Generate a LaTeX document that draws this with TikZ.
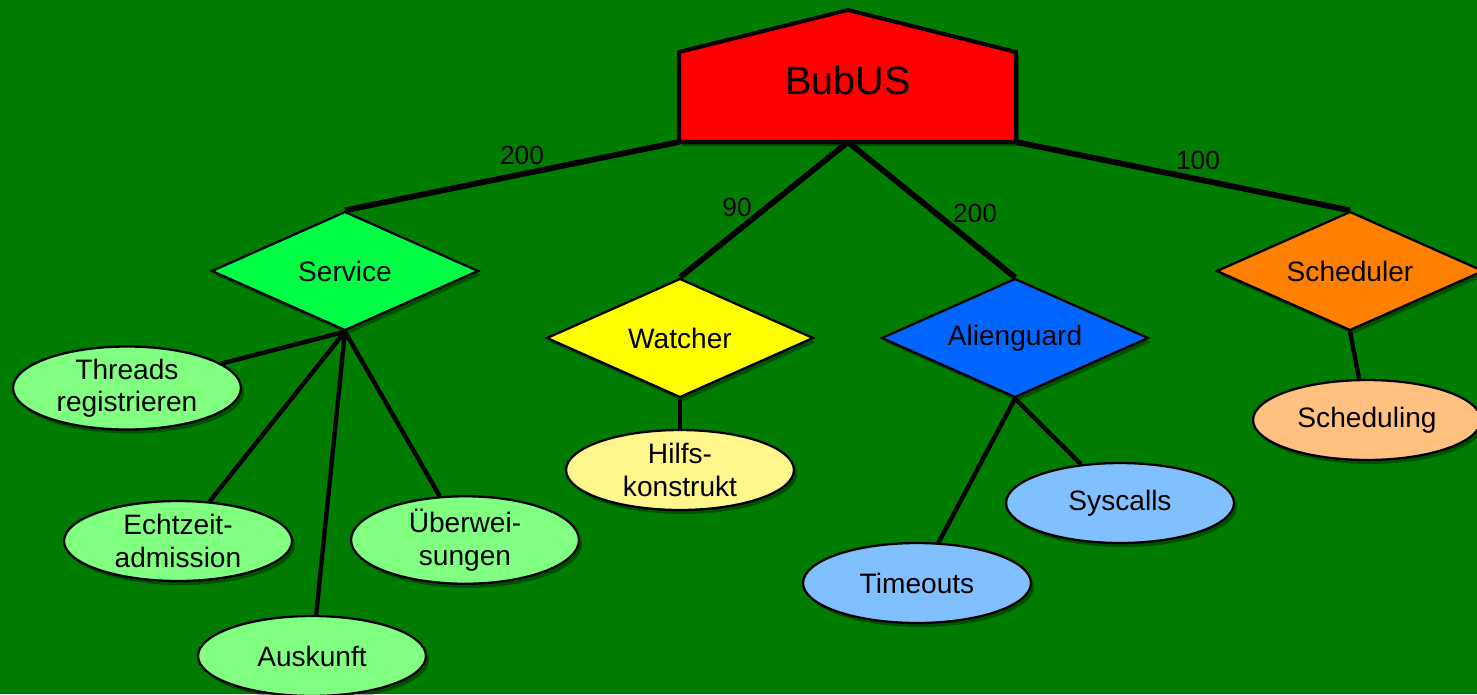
\documentclass[tikz,border=0pt]{standalone}
\usepackage{fontspec}
\setmainfont{Liberation Sans}
\usetikzlibrary{shapes.geometric,shadows}
\definecolor{bggreen}{RGB}{0,125,0}
\definecolor{hausrot}{RGB}{255,0,0}
\definecolor{svcgruen}{RGB}{0,255,68}
\definecolor{hellgruen}{RGB}{128,255,128}
\definecolor{wgelb}{RGB}{255,255,0}
\definecolor{hellgelb}{RGB}{255,246,140}
\definecolor{ablau}{RGB}{0,102,255}
\definecolor{hellblau}{RGB}{128,192,255}
\definecolor{sorange}{RGB}{255,128,0}
\definecolor{hellorange}{RGB}{255,192,128}
\tikzset{
  box/.style={draw=black,line width=1.3pt,
    drop shadow={shadow xshift=0.06cm,shadow yshift=-0.08cm,opacity=0.35,fill=black}},
  raute/.style={box,diamond,aspect=2.24,minimum width=5.34cm,minimum height=2.38cm,inner sep=0pt,
    font=\fontsize{16}{18.5}\selectfont},
  blase/.style={box,ellipse,minimum width=4.56cm,minimum height=1.6cm,inner sep=0pt,
    align=center,font=\fontsize{16}{18.5}\selectfont},
  dick/.style={line width=3.3pt},
  duenn/.style={line width=2.5pt},
  zahl/.style={font=\fontsize{15}{18}\selectfont}
}

\begin{document}
\begin{tikzpicture}[x=0.02cm,y=-0.02cm]
    % 背景
    \fill[bggreen](0,0)rectangle(1477,694);
    \useasboundingbox(0,0)rectangle(1477,694);
    % 顶部房子
    \coordinate(hl)at(679,142);
    \coordinate(hm)at(848,142);
    \coordinate(hr)at(1016,142);
    \filldraw[fill=hausrot,line width=2.3pt,line join=miter,
      drop shadow={shadow xshift=0.06cm,shadow yshift=-0.08cm,opacity=0.35,fill=black}]
      (hl)--(679,52)--(848,10)--(1016,52)--(hr)--cycle;
    \node(bubus)at(848,80){\fontsize{22.5}{26}\selectfont BubUS};
    % 菱形
    \node[raute,fill=svcgruen](svc)at(345,271){Service};
    \node[raute,fill=wgelb](wat)at(680,338){Watcher};
    \node[raute,fill=ablau](ali)at(1015,338){Alienguard};
    \node[raute,fill=sorange](sch)at(1350,271){Scheduler};
    % 椭圆
    \node[blase,fill=hellgruen](thr)at(127,388){Threads\\registrieren};
    \node[blase,fill=hellgruen](ech)at(178,541){Echtzeit-\\admission};
    \node[blase,fill=hellgruen](ask)at(312,656){Auskunft};
    \node[blase,fill=hellgruen](ueb)at(465,540){Überwei-\\sungen};
    \node[blase,fill=hellgelb](hil)at(680,470){Hilfs-\\konstrukt};
    \node[blase,fill=hellblau](tim)at(917,583){Timeouts};
    \node[blase,fill=hellblau](sys)at(1120,503){Syscalls};
    \node[blase,fill=hellorange](sng)at(1367,420){Scheduling};
    % 粗连线
    \draw[dick](hl)--(svc.north);
    \draw[dick](hm)--(wat.north);
    \draw[dick](hm)--(ali.north);
    \draw[dick](hr)--(sch.north);
    % 细连线
    \draw[duenn](svc.south)--(thr);
    \draw[duenn](svc.south)--(ech);
    \draw[duenn](svc.south)--(ask);
    \draw[duenn](svc.south)--(ueb);
    \draw[duenn](wat.south)--(hil);
    \draw[duenn](ali.south)--(tim);
    \draw[duenn](ali.south)--(sys);
    \draw[duenn](sch.south)--(sng);
    % 数字
    \node[zahl](n1)at(522,155){200};
    \node[zahl](n2)at(737,207){90};
    \node[zahl](n3)at(975,213){200};
    \node[zahl](n4)at(1198,160){100};
\end{tikzpicture}
\end{document}
